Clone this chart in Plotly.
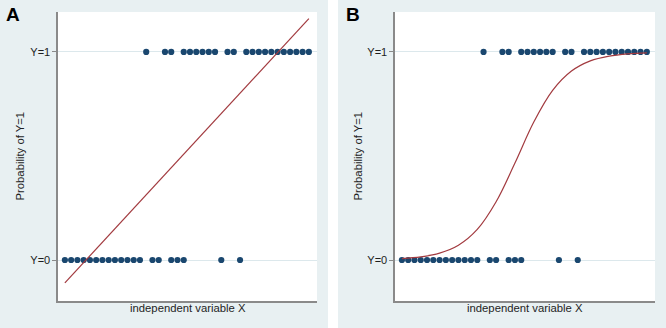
import plotly.graph_objects as go

# ---------------- data ----------------
x_y0 = [0, 1, 2, 3, 4, 5, 6, 7, 8, 9, 10, 11, 12, 14, 15, 17, 18, 19, 25, 28]
x_y1 = [13, 16, 17, 19, 20, 21, 22, 23, 24, 26, 27, 29, 30, 31, 32, 33, 34, 35, 36, 37, 38, 39]
ytick_vals = [0, 1]
ytick_text = ["Y=0", "Y=1"]

# linear probability model line (panel A)
lpm_x = [0, 39]
lpm_y = [-0.11, 1.16]

# logistic curve (panel B)
logit_x = [0, 3, 6, 9, 12, 15, 18, 21, 24, 27, 30, 33, 36, 39]
logit_y = [0.007, 0.015, 0.033, 0.071, 0.147, 0.28, 0.466, 0.663, 0.815, 0.908, 0.957, 0.98, 0.991, 0.996]

panel_labels = ["A", "B"]
x_title = "independent variable X"
y_title = "Probability of Y=1"

# ---------------- layout helpers ----------------
W, H = 666, 328
def px(x):
    return x / W
def py(y):
    return (H - y) / H

PANEL_BG = "#e8f0f2"
DOT = "#1a476f"
RED = "#a23a3f"
AXIS = "#8a8a8a"
GRID = "#dce8ec"
TXT = "#1e1e1e"
FONT = "Liberation Sans, Arial, sans-serif"

panels = [
    dict(bg=(0, 328), plot=(58, 317), letter_x=13),
    dict(bg=(338, 666), plot=(395, 655), letter_x=353),
]
plot_top, plot_bot = 12, 301

fig = go.Figure()

# panel A
fig.add_trace(go.Scatter(x=x_y0, y=[0] * len(x_y0), mode="markers",
                         marker=dict(color=DOT, size=6.2, line=dict(width=0)),
                         xaxis="x", yaxis="y", showlegend=False))
fig.add_trace(go.Scatter(x=x_y1, y=[1] * len(x_y1), mode="markers",
                         marker=dict(color=DOT, size=6.2, line=dict(width=0)),
                         xaxis="x", yaxis="y", showlegend=False))
fig.add_trace(go.Scatter(x=lpm_x, y=lpm_y, mode="lines",
                         line=dict(color=RED, width=1.2),
                         xaxis="x", yaxis="y", showlegend=False))
# panel B
fig.add_trace(go.Scatter(x=x_y0, y=[0] * len(x_y0), mode="markers",
                         marker=dict(color=DOT, size=6.2, line=dict(width=0)),
                         xaxis="x2", yaxis="y2", showlegend=False))
fig.add_trace(go.Scatter(x=x_y1, y=[1] * len(x_y1), mode="markers",
                         marker=dict(color=DOT, size=6.2, line=dict(width=0)),
                         xaxis="x2", yaxis="y2", showlegend=False))
fig.add_trace(go.Scatter(x=logit_x, y=logit_y, mode="lines",
                         line=dict(color=RED, width=1.2, shape="spline", smoothing=1.0),
                         xaxis="x2", yaxis="y2", showlegend=False))

xrange = [-1.1, 40.3]
yrange = [-0.197, 1.192]

def xaxis(dom, anchor):
    return dict(domain=dom, anchor=anchor, range=xrange, showgrid=False, zeroline=False,
                showticklabels=False, ticks="", showline=True, linecolor=AXIS, linewidth=1.6,
                fixedrange=True)

def yaxis(anchor):
    return dict(domain=[py(plot_bot), py(plot_top)], anchor=anchor, range=yrange,
                tickvals=ytick_vals, ticktext=ytick_text, ticks="outside", ticklen=4,
                tickcolor=AXIS, tickwidth=1, showgrid=True, gridcolor=GRID, gridwidth=1,
                zeroline=False, showline=True, linecolor=AXIS, linewidth=1.6,
                tickfont=dict(family=FONT, size=11, color=TXT), fixedrange=True)

shapes = []
annotations = []
for i, p in enumerate(panels):
    shapes.append(dict(type="rect", xref="paper", yref="paper",
                       x0=px(p["bg"][0]), x1=px(p["bg"][1]), y0=0, y1=1,
                       fillcolor=PANEL_BG, line=dict(width=0), layer="below"))
    shapes.append(dict(type="rect", xref="paper", yref="paper",
                       x0=px(p["plot"][0]), x1=px(p["plot"][1]),
                       y0=py(plot_bot), y1=py(plot_top),
                       fillcolor="white", line=dict(width=0), layer="below"))
    cx = (p["plot"][0] + p["plot"][1]) / 2
    annotations.append(dict(text=x_title, xref="paper", yref="paper", x=px(cx), y=py(308),
                            showarrow=False, xanchor="center", yanchor="middle",
                            font=dict(family=FONT, size=11.3, color=TXT)))
    annotations.append(dict(text=y_title, xref="paper", yref="paper",
                            x=px(p["bg"][0] + 19), y=py((plot_top + plot_bot) / 2),
                            showarrow=False, textangle=-90, xanchor="center", yanchor="middle",
                            font=dict(family=FONT, size=11.3, color=TXT)))
    annotations.append(dict(text="<b>%s</b>" % panel_labels[i], xref="paper", yref="paper",
                            x=px(p["letter_x"]), y=py(14.5), showarrow=False,
                            xanchor="center", yanchor="middle",
                            font=dict(family=FONT, size=19, color="#000000")))

fig.update_layout(
    width=W, height=H, margin=dict(l=0, r=0, t=0, b=0),
    paper_bgcolor="white", plot_bgcolor="white",
    xaxis=xaxis([px(58), px(317)], "y"),
    yaxis=yaxis("x"),
    xaxis2=xaxis([px(395), px(655)], "y2"),
    yaxis2=yaxis("x2"),
    shapes=shapes, annotations=annotations,
    showlegend=False,
)

fig.write_html("out.html", config={"displayModeBar": False, "staticPlot": True},
               post_script="document.body.style.margin='0';document.body.style.overflow='hidden';")
